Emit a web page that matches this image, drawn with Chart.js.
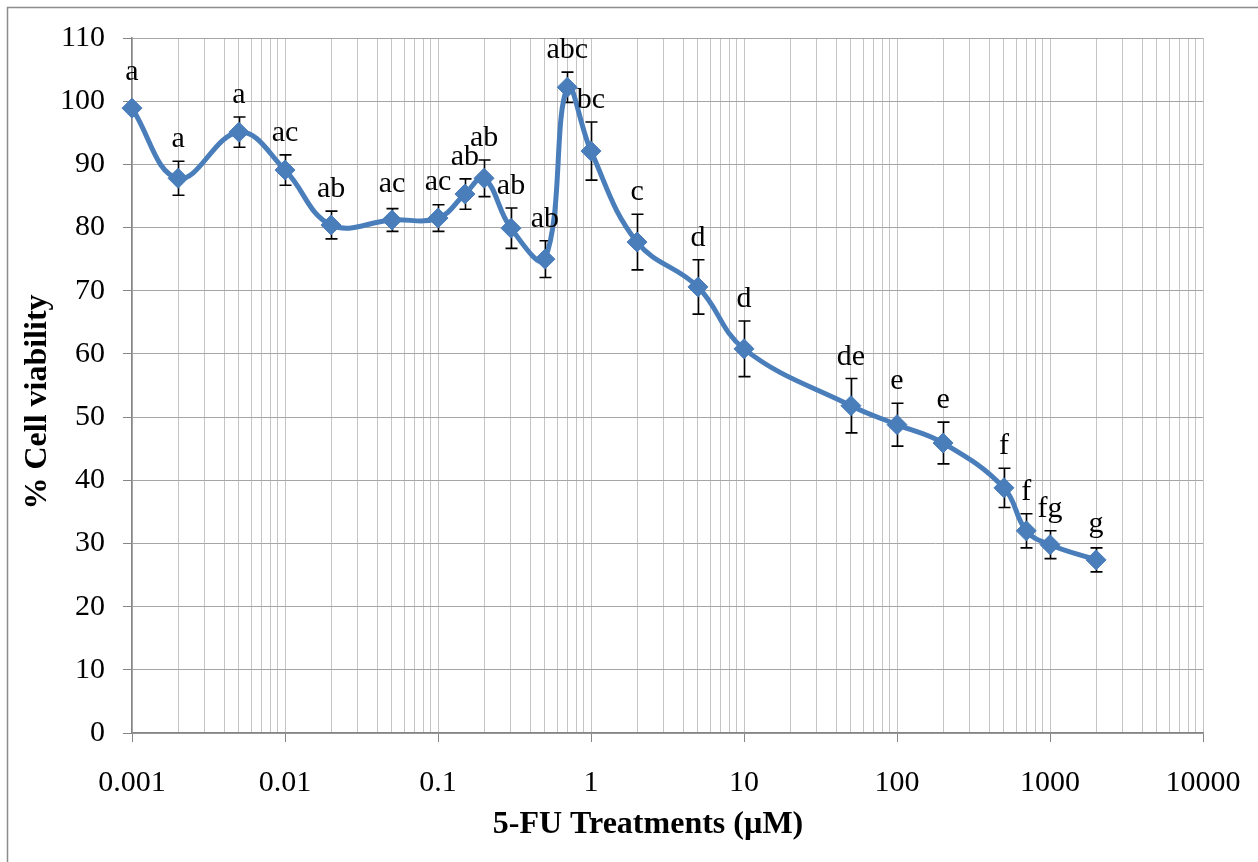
<!DOCTYPE html>
<html>
<head>
<meta charset="utf-8">
<script src="https://cdn.jsdelivr.net/npm/chart.js@4.4.1/dist/chart.umd.min.js"></script>
<style>
  html, body { margin: 0; padding: 0; background: #fff; }
  canvas { display: block; }
</style>
</head>
<body>
<canvas id="chart" width="1258" height="862"></canvas>
<script>
// 5-FU concentrations (µM), mean % viability, SEM and significance letters
const concentrations = [0.001, 0.002, 0.005, 0.01, 0.02, 0.05, 0.1, 0.15, 0.2, 0.3, 0.5, 0.7, 1, 2, 5, 10, 50, 100, 200, 500, 700, 1000, 2000];
const viability      = [98.9, 87.8, 95.1, 89.1, 80.4, 81.2, 81.5, 85.3, 87.8, 79.9, 75.0, 102.2, 92.1, 77.7, 70.6, 60.8, 51.8, 48.8, 45.9, 38.8, 32.0, 29.8, 27.4];
const sem            = [0, 2.7, 2.4, 2.4, 2.2, 1.8, 2.1, 2.4, 2.9, 3.2, 2.9, 2.4, 4.6, 4.4, 4.3, 4.4, 4.3, 3.4, 3.3, 3.1, 2.7, 2.2, 1.9];
const groupLetters   = ['a', 'a', 'a', 'ac', 'ab', 'ac', 'ac', 'ab', 'ab', 'ab', 'ab', 'abc', 'bc', 'c', 'd', 'd', 'de', 'e', 'e', 'f', 'f', 'fg', 'g'];
const decadeLabels   = ['0.001', '0.01', '0.1', '1', '10', '100', '1000', '10000'];

const xTitle = '5-FU Treatments (µM)';
const yTitle = '% Cell viability';

const SERIF = '"Liberation Serif", "Times New Roman", serif';
const LINE_BLUE = '#4a7ebb';
const AXIS_GREY = '#868686';

const points = concentrations.map((c, i) => ({ x: c, y: viability[i] }));

// white page with the thin outer frame
const framePlugin = {
  id: 'frame',
  beforeDraw(chart) {
    const ctx = chart.ctx;
    ctx.save();
    ctx.fillStyle = '#fff';
    ctx.fillRect(0, 0, chart.width, chart.height);
    ctx.strokeStyle = '#8c8c8c';
    ctx.lineWidth = 1.5;
    ctx.strokeRect(7.5, 7.5, chart.width + 40, chart.height + 40);
    ctx.restore();
  }
};

// SEM whiskers with caps, drawn under the line and markers
const errorBarPlugin = {
  id: 'errorBars',
  beforeDatasetsDraw(chart) {
    const { ctx, scales: { x, y } } = chart;
    ctx.save();
    ctx.strokeStyle = '#000';
    ctx.lineWidth = 1.6;
    concentrations.forEach((c, i) => {
      if (!sem[i]) return;
      const px = Math.round(x.getPixelForValue(c)) + 0.5;
      const top = y.getPixelForValue(viability[i] + sem[i]);
      const bot = y.getPixelForValue(viability[i] - sem[i]);
      ctx.beginPath();
      ctx.moveTo(px, top); ctx.lineTo(px, bot);
      ctx.moveTo(px - 6, top); ctx.lineTo(px + 6, top);
      ctx.moveTo(px - 6, bot); ctx.lineTo(px + 6, bot);
      ctx.stroke();
    });
    ctx.restore();
  }
};

// significance letters above each whisker
const letterPlugin = {
  id: 'letters',
  afterDatasetsDraw(chart) {
    const { ctx, scales: { x, y } } = chart;
    ctx.save();
    ctx.fillStyle = '#000';
    ctx.font = '30px ' + SERIF;
    ctx.textAlign = 'center';
    ctx.textBaseline = 'alphabetic';
    concentrations.forEach((c, i) => {
      const px = x.getPixelForValue(c);
      const py = y.getPixelForValue(viability[i]);
      const top = Math.min(y.getPixelForValue(viability[i] + sem[i]), py - 14);
      ctx.fillText(groupLetters[i], px, top - 14);
    });
    ctx.restore();
  }
};

// axis titles
const titlePlugin = {
  id: 'axisTitles',
  afterDraw(chart) {
    const ctx = chart.ctx;
    ctx.save();
    ctx.fillStyle = '#000';
    ctx.font = 'bold 32px ' + SERIF;
    ctx.textAlign = 'center';
    ctx.textBaseline = 'alphabetic';
    ctx.fillText(xTitle, 648, 833);
    ctx.translate(46, 402);
    ctx.rotate(-Math.PI / 2);
    ctx.fillText(yTitle, 0, 0);
    ctx.restore();
  }
};

new Chart(document.getElementById('chart'), {
  type: 'line',
  data: {
    datasets: [{
      data: points,
      borderColor: LINE_BLUE,
      backgroundColor: LINE_BLUE,
      borderWidth: 5,
      tension: 0.4,
      pointStyle: 'rectRot',
      pointRadius: 10,
      pointBorderWidth: 1,
      pointBackgroundColor: LINE_BLUE,
      pointBorderColor: LINE_BLUE,
      clip: false
    }]
  },
  options: {
    responsive: false,
    animation: false,
    devicePixelRatio: 1,
    layout: { padding: { top: 38, right: 55, left: 0, bottom: 0 } },
    plugins: { legend: { display: false }, tooltip: { enabled: false } },
    scales: {
      x: {
        type: 'logarithmic',
        min: Number(decadeLabels[0]),
        max: Number(decadeLabels[decadeLabels.length - 1]),
        afterBuildTicks(scale) {
          const decades = decadeLabels.map(Number);
          const ticks = [];
          decades.forEach((d, i) => {
            if (i === decades.length - 1) { ticks.push({ value: d, major: true }); return; }
            for (let k = 1; k <= 9; k++) ticks.push({ value: d * k, major: k === 1 });
          });
          scale.ticks = ticks;
        },
        afterFit(scale) {
          scale.height = 129;
          scale.paddingLeft = 0;
          scale.paddingRight = 0;
        },
        ticks: {
          autoSkip: false,
          maxRotation: 0,
          minRotation: 0,
          padding: 23,
          color: '#000',
          font: { family: SERIF, size: 30 },
          callback(value) {
            const lab = decadeLabels.find(l => Math.abs(Number(l) - value) <= value * 1e-9);
            return lab === undefined ? '' : lab;
          }
        },
        grid: {
          color: '#c4c4c4',
          lineWidth: 1,
          tickLength: 9,
          tickColor: ctx => (ctx.tick && ctx.tick.major) ? AXIS_GREY : 'rgba(0,0,0,0)'
        },
        border: { color: AXIS_GREY, width: 1.5 }
      },
      y: {
        min: 0,
        max: 110,
        afterFit(scale) { scale.width = 132; },
        ticks: {
          stepSize: 10,
          padding: 18,
          color: '#000',
          font: { family: SERIF, size: 30 }
        },
        grid: {
          color: '#a6a6a6',
          lineWidth: 1,
          tickLength: 9,
          tickColor: AXIS_GREY
        },
        border: { color: AXIS_GREY, width: 1.5 }
      }
    }
  },
  plugins: [framePlugin, errorBarPlugin, letterPlugin, titlePlugin]
});
</script>
</body>
</html>
